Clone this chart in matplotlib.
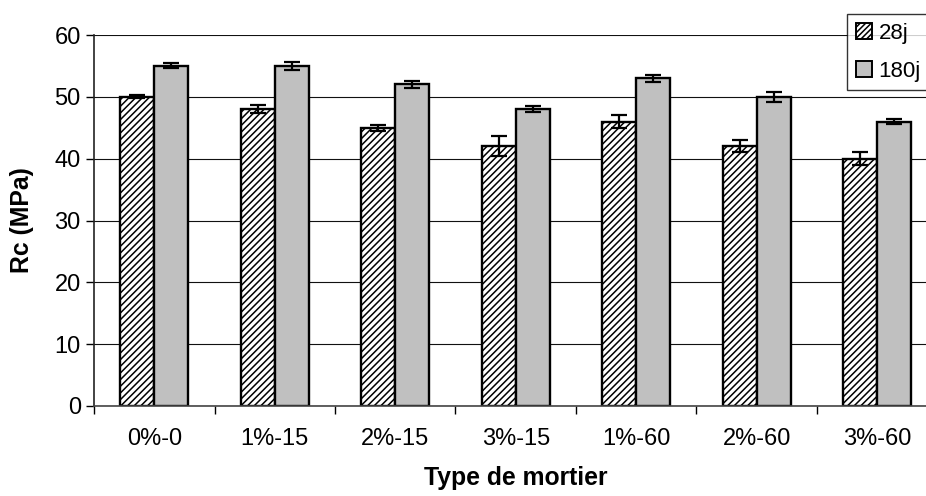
import matplotlib
matplotlib.use("Agg")
import matplotlib.pyplot as plt
import numpy as np
from matplotlib.patches import Patch

# Compressive strength per mortar type
categories = ["0%-0", "1%-15", "2%-15", "3%-15", "1%-60", "2%-60", "3%-60"]
rc_28j = [50, 48, 45, 42, 46, 42, 40]
err_28j = [0.25, 0.6, 0.5, 1.6, 1.0, 1.0, 1.0]
rc_180j = [55, 55, 52, 48, 53, 50, 46]
err_180j = [0.4, 0.7, 0.5, 0.5, 0.6, 0.85, 0.4]
series_labels = ["28j", "180j"]
yticks = [0, 10, 20, 30, 40, 50, 60]

plt.rcParams["font.family"] = ["Liberation Sans", "DejaVu Sans"]
plt.rcParams["hatch.linewidth"] = 1.1

W, H = 926, 496
fig = plt.figure(figsize=(W / 100, H / 100), dpi=100)
left, right, bottom, top = 94, 937.5, 406, 35
ax = fig.add_axes([left / W, 1 - bottom / H, (right - left) / W, (bottom - top) / H])

x = np.arange(len(categories))
bw = 0.282
ax.set_axisbelow(True)
ax.yaxis.grid(True, color="#111111", linewidth=0.8)

ax.bar(x - bw / 2, rc_28j, bw, color="white", edgecolor="black", linewidth=1.7,
       hatch="/////", zorder=2)
ax.bar(x + bw / 2, rc_180j, bw, color="#c0c0c0", edgecolor="black", linewidth=1.7,
       zorder=2)
ax.errorbar(x - bw / 2, rc_28j, yerr=err_28j, fmt="none", ecolor="black",
            elinewidth=1.6, capsize=5.5, capthick=1.6, zorder=3)
ax.errorbar(x + bw / 2, rc_180j, yerr=err_180j, fmt="none", ecolor="black",
            elinewidth=1.6, capsize=5.5, capthick=1.6, zorder=3)

ax.set_xlim(-0.5, len(categories) - 0.5)
ax.set_ylim(0, 60)
ax.set_yticks(yticks)
ax.set_xticks(x)
ax.set_xticklabels(categories)
ax.set_xticks(np.arange(len(categories) + 1) - 0.5, minor=True)
ax.tick_params(axis="x", which="major", length=0, pad=16, labelsize=17)
ax.tick_params(axis="x", which="minor", length=5.5, width=1, color="black")
ax.tick_params(axis="y", length=5.5, width=1, labelsize=17, pad=4)

for s in ["top", "right"]:
    ax.spines[s].set_visible(False)
ax.spines["left"].set_linewidth(1.2)
ax.spines["bottom"].set_linewidth(1.2)
ax.spines["left"].set_color("#222222")
ax.spines["bottom"].set_color("#444444")

ax.set_xlabel("Type de mortier", fontsize=17.8, fontweight="bold", labelpad=11)
ax.set_ylabel("Rc (MPa)", fontsize=17.8, fontweight="bold", labelpad=15)

handles = [
    Patch(facecolor="white", edgecolor="black", hatch="//////", linewidth=1.4),
    Patch(facecolor="#c0c0c0", edgecolor="black", linewidth=1.4),
]
leg = fig.legend(handles, series_labels, loc="upper left",
                 bbox_to_anchor=(847 / W, 1 - 14 / H), borderaxespad=0,
                 fontsize=16, frameon=True, fancybox=False,
                 handlelength=0.72, handleheight=0.72, handletextpad=0.3,
                 labelspacing=0.75, borderpad=0.4)
leg.get_frame().set_edgecolor("black")
leg.get_frame().set_linewidth(1.0)

fig.savefig("out.png", dpi=100)
